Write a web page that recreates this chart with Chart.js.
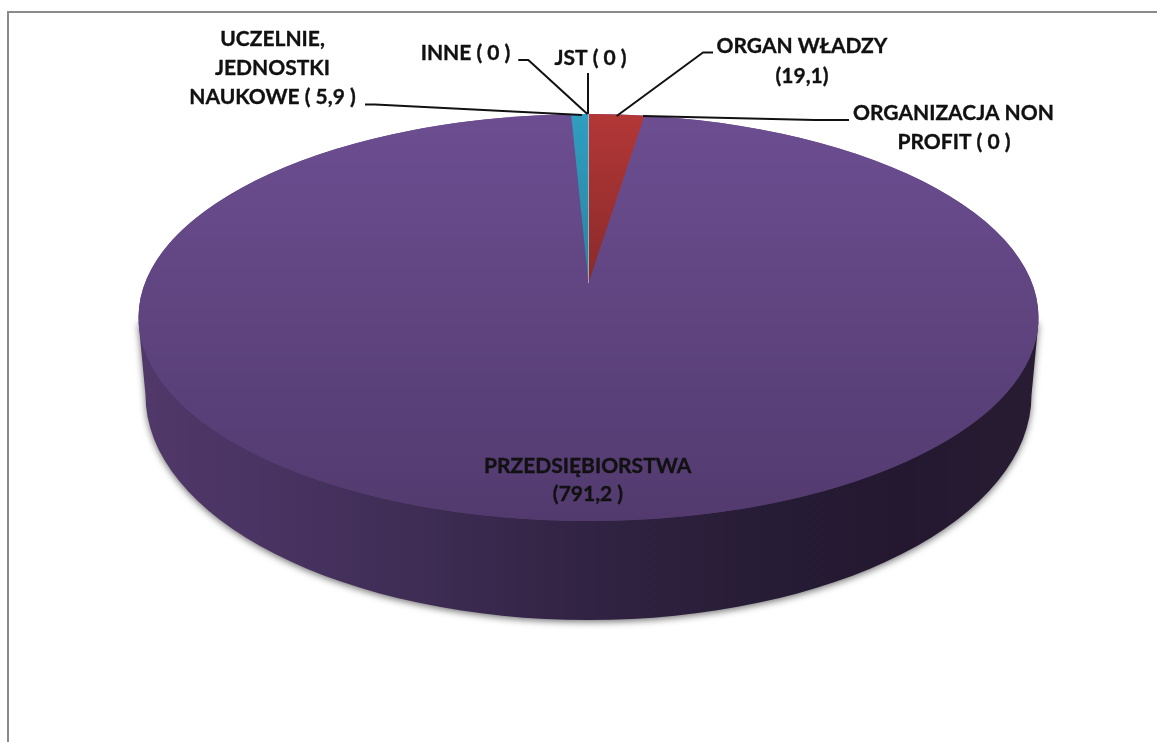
<!DOCTYPE html>
<html><head><meta charset="utf-8">
<style>html,body{margin:0;padding:0;background:#fff;overflow:hidden}canvas{display:block}</style>
<script src="https://cdn.jsdelivr.net/npm/chart.js@4/dist/chart.umd.min.js"></script>
</head><body><canvas id="c" width="1157" height="742"></canvas>
<script>
const categories = ["ORGAN WŁADZY","ORGANIZACJA NON PROFIT","PRZEDSIĘBIORSTWA","UCZELNIE, JEDNOSTKI NAUKOWE","INNE","JST"];
const values = [19.1, 0, 791.2, 5.9, 0, 0];
const valueLabels = ["19,1","0","791,2","5,9","0","0"];

// Projection of the circular pie onto the tilted 3D ellipse
const TOP = {x:588.5, y:317.5, rx:450, ry:203.5};
const WEDGE = {x:588.5, y:283, rx:382, ry:169};
const BASE = {x:588.5, y:395, rx:443, ry:225};
const RADIUS = 200;

const annotations = [
  {i:0, lines:[`${categories[0]}`,`(${valueLabels[0]})`], at:[[802,46],[802,76]], leader:[[713,52.5],[703,52.5],[616.7,116]]},
  {i:1, lines:["ORGANIZACJA NON",`PROFIT ( ${valueLabels[1]} )`], at:[[953.5,113],[954,142]], leader:[[643,116],[815,120],[849,120]]},
  {i:2, lines:[categories[2],`(${valueLabels[2]} )`], at:[[587.7,466],[588,494]], leader:null},
  {i:3, lines:["UCZELNIE,","JEDNOSTKI",`NAUKOWE ( ${valueLabels[3]} )`], at:[[272.5,39],[272.5,68],[272.5,97]], leader:[[365,104.5],[375,104.5],[582,115]]},
  {i:4, lines:[`${categories[4]} ( ${valueLabels[4]} )`], at:[[465.5,53]], leader:[[518.3,60],[528.3,60],[587.3,114]]},
  {i:5, lines:[`${categories[5]} ( ${valueLabels[5]} )`], at:[[590.5,58]], leader:[[588,73],[588,114]]}
];

function sliceFill(ctx){
  const chart = ctx.chart, a = chart.chartArea;
  const stops = {0:['#b33737','#8a2a2a'],3:['#2f9ec0','#2a84a0']}[ctx.dataIndex];
  if(!a) return '#5f4480';
  const cy = (a.top+a.bottom)/2;
  const g2d = chart.ctx;
  if(stops){
    const g = g2d.createLinearGradient(0,cy-RADIUS,0,cy);
    g.addColorStop(0,stops[0]); g.addColorStop(1,stops[1]);
    return g;
  }
  const g = g2d.createLinearGradient(0,cy-RADIUS,0,cy+RADIUS);
  g.addColorStop(0,'#6c4e91'); g.addColorStop(1,'#523a6e');
  return g;
}

const pie3d = {
  id:'pie3d',
  beforeDraw(chart){
    const c = chart.ctx;
    c.save();
    c.fillStyle='#fff'; c.fillRect(0,0,chart.width,chart.height);
    c.strokeStyle='#8a8a8a'; c.lineWidth=2;
    c.beginPath(); c.moveTo(8,742); c.lineTo(8,12); c.lineTo(1157,12); c.stroke();
    c.restore();
  },
  beforeDatasetsDraw(chart){
    const c = chart.ctx, arcs = chart.getDatasetMeta(0).data;
    const a = chart.chartArea, cx=(a.left+a.right)/2, cy=(a.top+a.bottom)/2;

    // side wall with soft shadow
    c.save();
    const side = c.createLinearGradient(145,0,1032,0);
    [[0,'#503869'],[0.12,'#4a3463'],[0.3,'#3f2d55'],[0.5,'#312343'],[0.7,'#271c35'],[0.85,'#231830'],[1,'#281c32']]
      .forEach(s=>side.addColorStop(s[0],s[1]));
    c.shadowColor='rgba(0,0,0,0.55)'; c.shadowBlur=7; c.shadowOffsetY=2;
    c.fillStyle=side;
    c.beginPath();
    c.moveTo(TOP.x-TOP.rx,TOP.y+4);
    c.lineTo(BASE.x-BASE.rx,BASE.y);
    c.ellipse(BASE.x,BASE.y,BASE.rx,BASE.ry,0,Math.PI,0,true);
    c.lineTo(TOP.x+TOP.rx,TOP.y+4);
    c.closePath(); c.fill();
    c.restore();

    // top face backing
    c.save();
    const g = c.createLinearGradient(0,TOP.y-TOP.ry,0,TOP.y+TOP.ry);
    g.addColorStop(0,'#6c4e91'); g.addColorStop(1,'#523a6e');
    c.fillStyle=g;
    c.beginPath(); c.ellipse(TOP.x,TOP.y,TOP.rx,TOP.ry,0,0,Math.PI*2); c.fill();
    c.restore();

    const project = (P)=>{
      c.translate(P.x,P.y); c.scale(P.rx/RADIUS,P.ry/RADIUS); c.translate(-cx,-cy);
    };
    // large slice first, small front wedges over it
    arcs.forEach((arc,i)=>{
      if(values[i]<100) return;
      c.save(); project(TOP); arc.draw(c); c.restore();
    });
    arcs.forEach((arc,i)=>{
      if(values[i]>=100 || values[i]===0) return;
      c.save(); project(WEDGE); arc.draw(c); c.restore();
    });
    // hairline where the slices meet
    c.save();
    project(WEDGE);
    const ang = arcs[0].startAngle;
    c.beginPath(); c.moveTo(cx,cy);
    c.lineTo(cx+RADIUS*Math.cos(ang),cy+RADIUS*Math.sin(ang));
    c.restore();
    c.save(); c.strokeStyle='rgba(255,255,255,0.6)'; c.lineWidth=0.8; c.stroke(); c.restore();
    return false;
  },
  afterDraw(chart){
    const c = chart.ctx;
    c.save();
    c.strokeStyle='#111'; c.lineWidth=2; c.lineJoin='round';
    annotations.forEach(n=>{
      if(!n.leader) return;
      c.beginPath();
      n.leader.forEach((p,k)=> k?c.lineTo(p[0],p[1]):c.moveTo(p[0],p[1]));
      c.stroke();
    });
    c.fillStyle='#111'; c.strokeStyle='#111'; c.lineWidth=0.35;
    c.textAlign='center'; c.textBaseline='middle';
    c.font='bold 21px Lato, "Open Sans", sans-serif';
    annotations.forEach(n=>{
      n.lines.forEach((t,k)=>{c.fillText(t,n.at[k][0],n.at[k][1]); c.strokeText(t,n.at[k][0],n.at[k][1]);});
    });
    c.restore();
  }
};

new Chart(document.getElementById('c'),{
  type:'pie',
  data:{labels:categories,datasets:[{data:values,backgroundColor:sliceFill,borderWidth:0}]},
  options:{
    responsive:false,animation:false,radius:RADIUS,rotation:0,
    layout:{padding:0},
    plugins:{legend:{display:false},tooltip:{enabled:false},title:{display:false}}
  },
  plugins:[pie3d]
});
</script></body></html>
